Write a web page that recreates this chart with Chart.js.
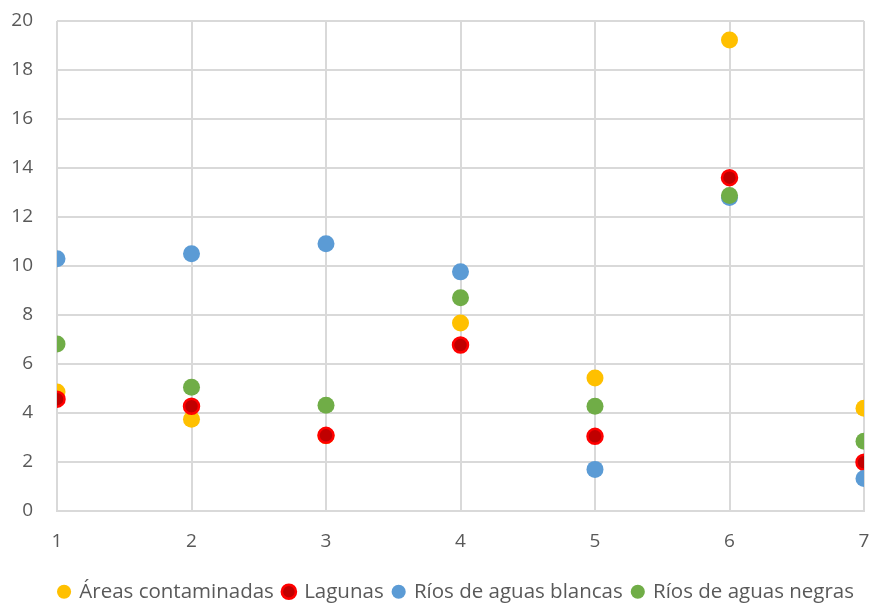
<!DOCTYPE html>
<html>
<head>
<meta charset="utf-8">
<script src="https://cdn.jsdelivr.net/npm/chart.js@4"></script>
<style>
  html, body { margin: 0; padding: 0; background: #fff; }
  #wrap { width: 874px; height: 604px; }
</style>
</head>
<body>
<div id="wrap"><canvas id="c" width="874" height="604"></canvas></div>
<script>
// Sampling positions 1..7 and the four series
const positions = [1, 2, 3, 4, 5, 6, 7];
const areasContaminadas = [4.84, 3.73, 3.05, 7.66, 5.41, 19.22, 4.18];
const lagunas = [4.55, 4.26, 3.07, 6.76, 3.03, 13.6, 1.97];
const riosBlancas = [10.29, 10.49, 10.9, 9.75, 1.68, 12.79, 1.31];
const riosNegras = [6.8, 5.04, 4.3, 8.69, 4.26, 12.87, 2.83];
const seriesNames = ['Áreas contaminadas', 'Lagunas', 'Ríos de aguas blancas', 'Ríos de aguas negras'];

const toPoints = vals => positions.map((x, i) => ({ x: x, y: vals[i] }));

const textColor = '#595959';
const gridColor = '#d9d9d9';
const tickFont = { family: 'Open Sans', size: 19 };

new Chart(document.getElementById('c'), {
  type: 'scatter',
  data: {
    datasets: [
      { label: seriesNames[0], data: toPoints(areasContaminadas), backgroundColor: '#FFC000', borderColor: '#FFC000', borderWidth: 0, pointRadius: 8.5, order: 3 },
      { label: seriesNames[1], data: toPoints(lagunas), backgroundColor: '#C00000', borderColor: '#FF0000', borderWidth: 2.5, pointRadius: 7.5, order: 2 },
      { label: seriesNames[2], data: toPoints(riosBlancas), backgroundColor: '#5B9BD5', borderColor: '#5B9BD5', borderWidth: 0, pointRadius: 8.5, order: 1 },
      { label: seriesNames[3], data: toPoints(riosNegras), backgroundColor: '#70AD47', borderColor: '#70AD47', borderWidth: 0, pointRadius: 8.5, order: 0 }
    ]
  },
  options: {
    responsive: false,
    animation: false,
    devicePixelRatio: 1,
    layout: { padding: { left: 0, right: 10, top: 21, bottom: -8 } },
    plugins: {
      tooltip: { enabled: false },
      legend: {
        position: 'bottom',
        align: 'end',
        labels: {
          usePointStyle: true,
          pointStyle: 'circle',
          boxWidth: 10,
          boxHeight: 10,
          padding: 10,
          color: textColor,
          font: { family: 'Open Sans', size: 20.5 },
          sort: (a, b) => a.datasetIndex - b.datasetIndex
        }
      }
    },
    scales: {
      x: {
        type: 'linear',
        min: 1,
        max: 7,
        ticks: { stepSize: 1, color: textColor, font: tickFont, padding: 20 },
        grid: { color: gridColor, lineWidth: 2, drawTicks: false },
        border: { color: gridColor, width: 2 },
        afterFit: (scale) => { scale.height = 61; scale.paddingLeft = 0; scale.paddingRight = 0; }
      },
      y: {
        min: 0,
        max: 20,
        ticks: { stepSize: 2, color: textColor, font: tickFont, padding: 24 },
        grid: { color: gridColor, lineWidth: 2, drawTicks: false },
        border: { display: false },
        afterFit: (scale) => { scale.width = 57; scale.paddingTop = 0; scale.paddingBottom = 0; }
      }
    }
  }
});
</script>
</body>
</html>
